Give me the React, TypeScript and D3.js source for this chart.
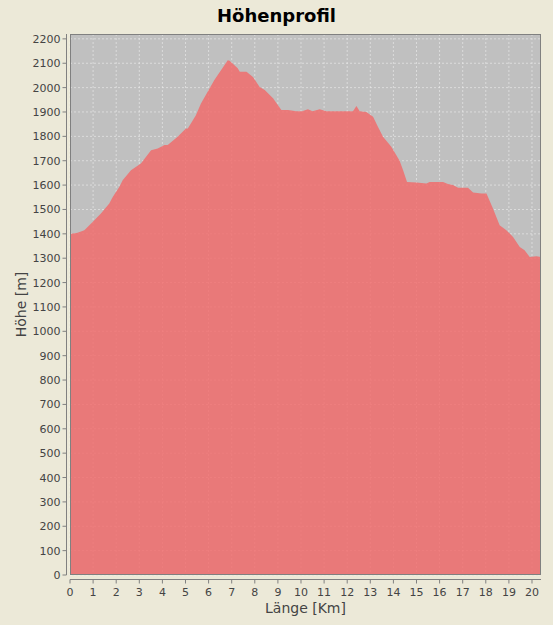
import * as d3 from 'd3';

// profile (km, m)
const distKm = [
  0, 0.33, 0.62, 0.98, 1.34, 1.7, 1.85, 1.99, 2.14, 2.28, 2.64, 3.07, 3.51, 3.8, 4.09, 4.23,
  4.66, 5.02, 5.1, 5.45, 5.67, 6.25, 6.83, 6.91, 7.26, 7.35, 7.64, 7.92, 8.21, 8.43, 8.79,
  9.15, 9.44, 9.8, 10.05, 10.3, 10.5, 10.81, 11.1, 12.03, 12.25, 12.4, 12.54, 12.83, 13.12,
  13.33, 13.55, 13.91, 14.27, 14.42, 14.59, 15.0, 15.43, 15.57, 16.15, 16.36, 16.58, 16.8,
  17.23, 17.45, 17.81, 18.03, 18.31, 18.6, 18.89, 19.18, 19.47, 19.68, 19.9, 20.19, 20.39,
];
const elevation = [
  1399, 1404, 1415, 1449, 1483, 1524, 1551, 1572, 1593, 1620, 1661, 1689, 1743, 1750, 1764, 1764,
  1798, 1832, 1832, 1887, 1935, 2031, 2112, 2110, 2079, 2065, 2065, 2044, 2003, 1990, 1956,
  1908, 1908, 1903, 1903, 1911, 1903, 1911, 1903, 1903, 1903, 1925, 1903, 1900, 1880,
  1839, 1798, 1757, 1700, 1661, 1613, 1611, 1607, 1613, 1613, 1604, 1600, 1589,
  1589, 1570, 1566, 1566, 1504, 1435, 1415, 1387, 1346, 1333, 1305, 1308, 1305,
];

const xTicks = d3.range(0, 21, 1);
const yTicks = d3.range(0, 2201, 100);

const title = 'Höhenprofil';
const xLabel = 'Länge [Km]';
const yLabel = 'Höhe [m]';

const W = 553;
const H = 625;
const plot = { left: 70, right: 541, top: 34, bottom: 575 };
const font = '"DejaVu Sans", sans-serif';

export default function App() {
  const x = d3.scaleLinear().domain([0, 20.39]).range([plot.left, plot.right]);
  const y = d3.scaleLinear().domain([0, 2220]).range([plot.bottom, plot.top]);

  const points = distKm.map((d, i) => [d, elevation[i]] as [number, number]);
  const area = d3
    .area<[number, number]>()
    .x((d) => x(d[0]))
    .y0(y(0))
    .y1((d) => y(d[1]))
    .curve(d3.curveLinear);

  const axisX = plot.left - 3.5;
  const axisY = plot.bottom + 4.5;

  return (
    <svg
      width={W}
      height={H}
      style={{ position: 'absolute', left: 0, top: 0 }}
      fontFamily={font}
    >
      <rect x={0} y={0} width={W} height={H} fill="#ECE9D8" />

      <text x={W / 2} y={22} textAnchor="middle" fontSize={18} fontWeight="bold" fill="#000">
        {title}
      </text>

      {/* plot background */}
      <rect
        x={plot.left}
        y={plot.top}
        width={plot.right - plot.left}
        height={plot.bottom - plot.top}
        fill="#C0C0C0"
      />

      {/* grid */}
      <g stroke="#FFFFFF" strokeWidth={0.6} strokeDasharray="2,2" opacity={0.75}>
        {xTicks.map((t) => (
          <line key={'gx' + t} x1={x(t)} x2={x(t)} y1={plot.top} y2={plot.bottom} />
        ))}
        {yTicks.map((t) => (
          <line key={'gy' + t} x1={plot.left} x2={plot.right} y1={y(t)} y2={y(t)} />
        ))}
      </g>

      <path d={area(points) || ''} fill="#F36767" fillOpacity={0.8} />

      {/* plot outline */}
      <rect
        x={plot.left + 0.5}
        y={plot.top + 0.5}
        width={plot.right - plot.left - 1}
        height={plot.bottom - plot.top - 1}
        fill="none"
        stroke="#808080"
        strokeWidth={1}
      />

      {/* y axis */}
      <line x1={axisX} x2={axisX} y1={plot.top} y2={plot.bottom} stroke="#808080" />
      {yTicks.map((t) => (
        <g key={'ty' + t}>
          <line x1={axisX - 4} x2={axisX} y1={y(t)} y2={y(t)} stroke="#808080" />
          <text
            x={axisX - 6}
            y={y(t) + 4}
            textAnchor="end"
            fontSize={11}
            fill="#444444"
          >
            {t}
          </text>
        </g>
      ))}

      {/* x axis */}
      <line x1={plot.left} x2={plot.right} y1={axisY} y2={axisY} stroke="#808080" />
      {xTicks.map((t) => (
        <g key={'tx' + t}>
          <line x1={x(t)} x2={x(t)} y1={axisY} y2={axisY + 4} stroke="#808080" />
          <text x={x(t)} y={596} textAnchor="middle" fontSize={11} fill="#444444">
            {t}
          </text>
        </g>
      ))}

      <text
        x={(plot.left + plot.right) / 2}
        y={613}
        textAnchor="middle"
        fontSize={14}
        fill="#444444"
      >
        {xLabel}
      </text>
      <text
        transform={`translate(26,${(plot.top + plot.bottom) / 2}) rotate(-90)`}
        textAnchor="middle"
        fontSize={14}
        fill="#444444"
      >
        {yLabel}
      </text>
    </svg>
  );
}
